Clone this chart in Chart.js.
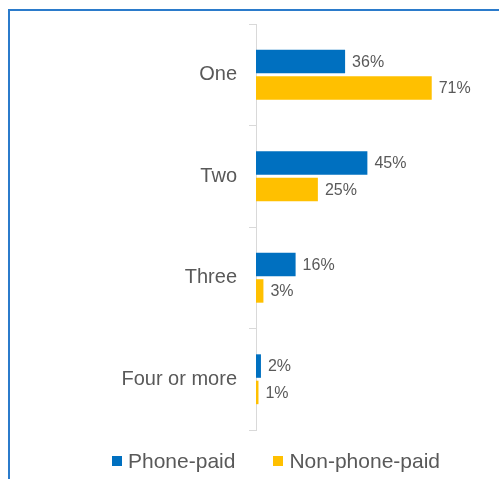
<!DOCTYPE html>
<html>
<head>
<meta charset="utf-8">
<script src="https://cdn.jsdelivr.net/npm/chart.js@4/dist/chart.umd.min.js"></script>
<style>
  html, body { margin: 0; padding: 0; background: #fff; }
  #wrap { position: relative; width: 499px; height: 479px; overflow: hidden; font-family: "Liberation Sans", Arial, sans-serif; }
  #frame { position: absolute; left: 8px; top: 9px; width: 520px; height: 500px; border-left: 2px solid #2b7bcb; border-top: 2px solid #2b7bcb; box-sizing: border-box; }
  canvas { position: absolute; left: 0; top: 0; }
  #legend { position: absolute; left: 112px; top: 449px; display: flex; align-items: center; font-size: 21px; color: #595959; white-space: nowrap; }
  .item { display: flex; align-items: center; margin-right: 38px; }
  .box { width: 10px; height: 10px; margin-right: 6px; }
</style>
</head>
<body>
<div id="wrap">
  <div id="frame"></div>
  <canvas id="c" width="499" height="479"></canvas>
  <div id="legend"></div>
</div>
<script>
const categories = ["One", "Two", "Three", "Four or more"];
const seriesNames = ["Phone-paid", "Non-phone-paid"];
const phonePaid = [36, 45, 16, 2];
const nonPhonePaid = [71, 25, 3, 1];
const seriesColors = ["#0070C0", "#FFC000"];

const valueLabels = {
  id: 'valueLabels',
  afterDatasetsDraw(chart) {
    const ctx = chart.ctx;
    ctx.save();
    ctx.font = '16px "Liberation Sans", Arial, sans-serif';
    ctx.fillStyle = '#595959';
    ctx.textAlign = 'left';
    ctx.textBaseline = 'middle';
    chart.data.datasets.forEach((ds, i) => {
      const meta = chart.getDatasetMeta(i);
      meta.data.forEach((el, j) => {
        ctx.fillText(ds.data[j] + '%', el.x + 7, el.y + 1);
      });
    });
    ctx.restore();
  }
};

const chart = new Chart(document.getElementById('c'), {
  type: 'bar',
  data: {
    labels: categories,
    datasets: [
      { label: seriesNames[0], data: phonePaid, backgroundColor: seriesColors[0], categoryPercentage: 0.52, barPercentage: 0.89 },
      { label: seriesNames[1], data: nonPhonePaid, backgroundColor: seriesColors[1], categoryPercentage: 0.52, barPercentage: 0.89 }
    ]
  },
  options: {
    indexAxis: 'y',
    responsive: false,
    animation: false,
    layout: { padding: { top: 22, bottom: 49, left: 0, right: 45 } },
    plugins: { legend: { display: false }, tooltip: { enabled: false } },
    scales: {
      x: { display: false, min: 0, max: 80 },
      y: {
        afterFit(scale) { scale.width = 256; },
        grid: { drawOnChartArea: false, tickLength: 7, color: '#d9d9d9', offset: true },
        border: { color: '#d9d9d9', width: 1 },
        ticks: { padding: 12, color: '#595959', font: { family: '"Liberation Sans", Arial, sans-serif', size: 20 } }
      }
    }
  },
  plugins: [valueLabels]
});

const legend = document.getElementById('legend');
seriesNames.forEach((name, i) => {
  const item = document.createElement('div');
  item.className = 'item';
  const box = document.createElement('span');
  box.className = 'box';
  box.style.background = seriesColors[i];
  const txt = document.createElement('span');
  txt.textContent = name;
  item.appendChild(box);
  item.appendChild(txt);
  legend.appendChild(item);
});
</script>
</body>
</html>
